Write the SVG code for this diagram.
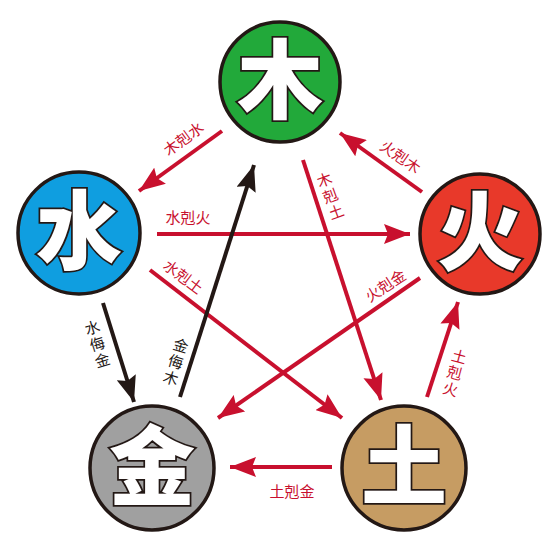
<svg xmlns="http://www.w3.org/2000/svg" width="560" height="560" viewBox="0 0 560 560">
<style>
.node circle{stroke:#231815;stroke-width:3.5}
.big{font-family:"Noto Sans CJK SC","Noto Sans CJK JP",sans-serif;font-weight:900;font-size:86px;fill:#fff;stroke:#231815;stroke-width:3.5;paint-order:stroke;text-anchor:middle}
.lbl{font-family:"Noto Sans CJK SC","Noto Sans CJK JP",sans-serif;font-size:15px;text-anchor:middle;dominant-baseline:central}
.r{fill:#c8102e}
.k{fill:#231815}
.ar{stroke:#c8102e;stroke-width:4;fill:none;marker-end:url(#hr)}
.ak{stroke:#231815;stroke-width:4;fill:none;marker-end:url(#hk)}
</style>
<defs>
<marker id="hr" markerUnits="userSpaceOnUse" viewBox="0 0 26 20" refX="26" refY="10" markerWidth="26" markerHeight="20" orient="auto">
<path d="M0,0 L26,10 L0,20 L4,10 Z" fill="#c8102e"/>
</marker>
<marker id="hk" markerUnits="userSpaceOnUse" viewBox="0 0 26 20" refX="26" refY="10" markerWidth="26" markerHeight="20" orient="auto">
<path d="M0,0 L26,10 L0,20 L4,10 Z" fill="#231815"/>
</marker>
</defs>
<rect width="560" height="560" fill="#fff"/>
<g id="connectors">
<line class="ar" x1="222" y1="131" x2="139" y2="191"/>
<line class="ar" x1="422" y1="192" x2="340" y2="133"/>
<line class="ar" x1="157" y1="234" x2="410" y2="234"/>
<line class="ar" x1="303" y1="160" x2="381" y2="400"/>
<line class="ar" x1="150" y1="270" x2="342" y2="418"/>
<line class="ar" x1="420" y1="278" x2="218" y2="418"/>
<line class="ar" x1="427" y1="397" x2="458" y2="302"/>
<line class="ar" x1="332" y1="467" x2="230" y2="467"/>
<line class="ak" x1="103" y1="303" x2="134" y2="402"/>
<line class="ak" x1="180" y1="397" x2="254" y2="165"/>
<text class="lbl r" transform="translate(183,138) rotate(-36)">木剋水</text>
<text class="lbl r" transform="translate(401,156) rotate(35)">火剋木</text>
<text class="lbl r" x="188" y="216">水剋火</text>
<g transform="translate(330,195) rotate(-20)"><text class="lbl r" x="0" y="-17">木</text><text class="lbl r" x="0" y="0">剋</text><text class="lbl r" x="0" y="17">土</text></g>
<text class="lbl r" transform="translate(184,276) rotate(37)">水剋土</text>
<text class="lbl r" transform="translate(385,285) rotate(-33)">火剋金</text>
<g transform="translate(455,372) rotate(15)"><text class="lbl r" x="0" y="-17">土</text><text class="lbl r" x="0" y="0">剋</text><text class="lbl r" x="0" y="17">火</text></g>
<text class="lbl r" x="292" y="490">土剋金</text>
<g transform="translate(97,343) rotate(-17)"><text class="lbl k" x="0" y="-17">水</text><text class="lbl k" x="0" y="0">侮</text><text class="lbl k" x="0" y="17">金</text></g>
<g transform="translate(176,361) rotate(17)"><text class="lbl k" x="0" y="-17">金</text><text class="lbl k" x="0" y="0">侮</text><text class="lbl k" x="0" y="17">木</text></g>
</g>
<g id="node-wood" class="node"><circle cx="280" cy="82" r="60" fill="#22a93a"/><text class="big" x="280" y="112">木</text></g>
<g id="node-water" class="node"><circle cx="79" cy="233" r="61" fill="#0f9ee0"/><text class="big" x="79" y="263">水</text></g>
<g id="node-fire" class="node"><circle cx="480" cy="234" r="60" fill="#e8392a"/><text class="big" x="480" y="264">火</text></g>
<g id="node-metal" class="node"><circle cx="152" cy="468" r="62" fill="#a0a0a0"/><text class="big" x="152" y="498">金</text></g>
<g id="node-earth" class="node"><circle cx="404" cy="468" r="62" fill="#c69c63"/><text class="big" x="404" y="498">土</text></g>
</svg>
